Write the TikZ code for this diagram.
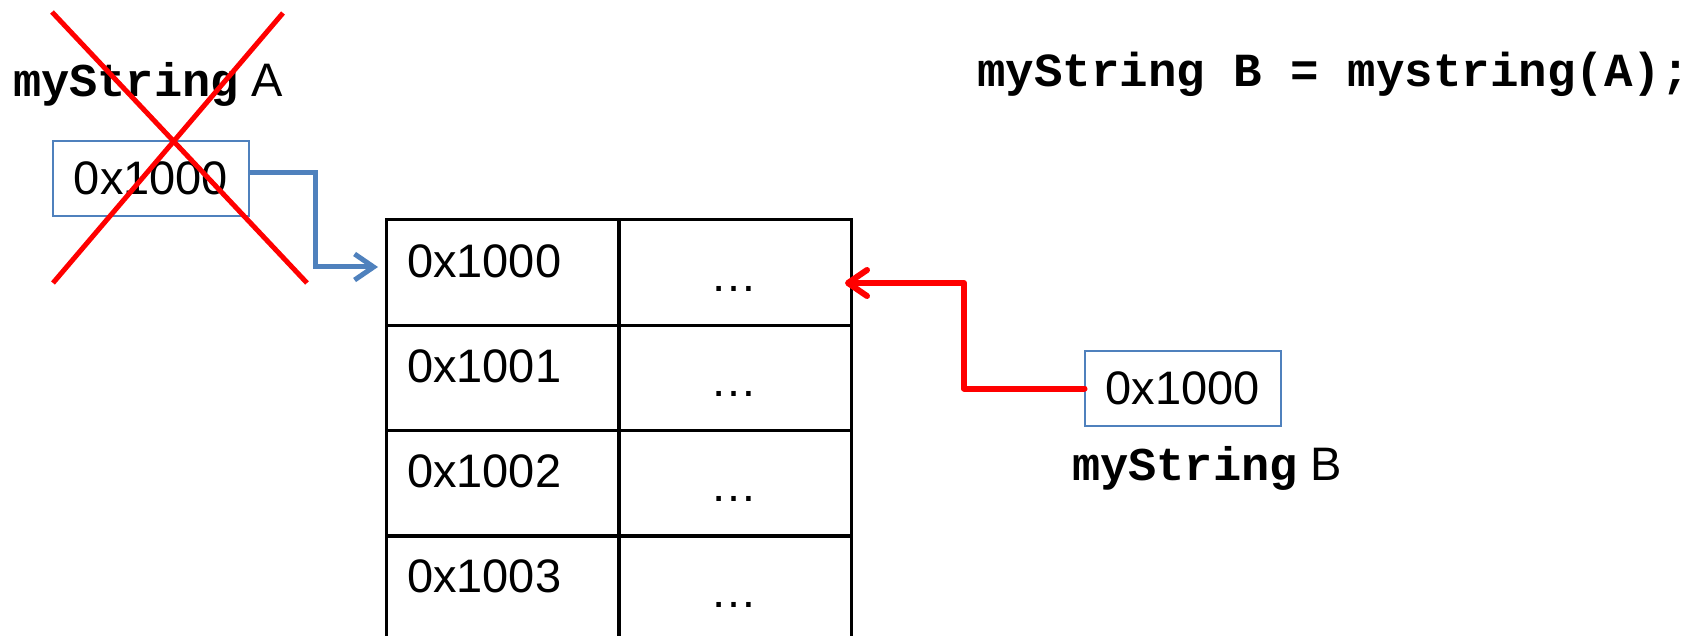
\documentclass[tikz,border=0pt]{standalone}
\usepackage{fontspec}
\setmainfont{Liberation Sans}
\newfontfamily\codefont{Liberation Mono}
\usetikzlibrary{arrows.meta}
\definecolor{ablue}{RGB}{79,129,189}
\definecolor{ared}{RGB}{255,0,0}
\begin{document}
\begin{tikzpicture}[x=1pt,y=-1pt,
  every node/.style={font=\fontsize{47}{56}\selectfont, inner sep=0pt, outer sep=0pt},
  ptrbox/.style={draw=ablue, line width=2pt, minimum width=196pt, minimum height=75pt},
  cell/.style={draw=black, line width=3pt, minimum width=233pt, minimum height=105pt},
  addr/.style={anchor=base west},
  dotsnode/.style={anchor=base},
  lbl/.style={anchor=base west},
  bluearrow/.style={draw=ablue, line width=5pt, -{Straight Barb[length=19pt,width=26pt]}},
  redarrow/.style={draw=ared, line width=6pt, line cap=round, line join=round, -{Straight Barb[round,length=19pt,width=26pt]}},
  cross/.style={draw=ared, line width=5pt}
]
\clip (0,0) rectangle (1702,636);
\fill[white] (0,0) rectangle (1702,636);

% title
\node[lbl] (title) at (977,87) {\fontsize{47.5}{56}\selectfont\codefont\bfseries myString B = mystring(A);};

% labels
\node[lbl] (labelA) at (13,97) {{\codefont\bfseries myString} A};
\node[lbl] (labelB) at (1072,480) {{\codefont\bfseries myString} B};

% pointer boxes
\node[ptrbox] (boxA) at (151,178.5) {0x1000};
\node[ptrbox] (boxB) at (1182.5,388.5) {0x1000};

% memory table
\node[cell] (c1a) at (502.5,272.5) {};
\node[cell] (c1b) at (735,272.5) {};
\node[cell] (c2a) at (502.5,377.5) {};
\node[cell] (c2b) at (735,377.5) {};
\node[cell] (c3a) at (502.5,482.5) {};
\node[cell] (c3b) at (735,482.5) {};
\node[cell] (c4a) at (502.5,588.5) {};
\node[cell] (c4b) at (735,588.5) {};

\node[addr] (t1) at (407,277) {0x1000};
\node[addr] (t2) at (407,382) {0x1001};
\node[addr] (t3) at (407,487) {0x1002};
\node[addr] (t4) at (407,592) {0x1003};
\node[dotsnode] (d1) at (734,291) {…};
\node[dotsnode] (d2) at (734,396) {…};
\node[dotsnode] (d3) at (734,501) {…};
\node[dotsnode] (d4) at (734,607) {…};

% connectors
\coordinate (bendA) at (315,267);
\coordinate (tipA) at (378,267);
\draw[bluearrow] ([yshift=5.5pt]boxA.east) -| (bendA) -- (tipA);

\coordinate (bendB) at (964,283);
\coordinate (tipB) at (845,283);
\draw[redarrow] (boxB.west) -| (bendB) -- (tipB);

% cross
\draw[cross] (52,12) -- (307,283);
\draw[cross] (283,13) -- (53,283);
\end{tikzpicture}
\end{document}
